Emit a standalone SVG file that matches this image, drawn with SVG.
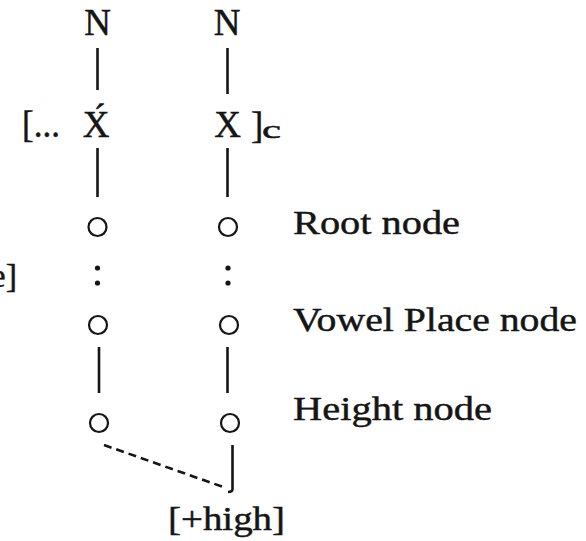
<svg xmlns="http://www.w3.org/2000/svg" width="586" height="541" viewBox="0 0 586 541" font-family="Liberation Serif, serif">
<style>
  text { font-family: 'Liberation Serif', serif; fill: #151515; stroke: #151515; stroke-width: 0.45; }
  .big { font-size: 37px; }
  .lbl { font-size: 34px; }
  .ln { stroke: #151515; stroke-width: 2.6; fill: none; stroke-linecap: butt; }
  .nd { stroke: #151515; stroke-width: 2.2; fill: #fff; }
  .dot { fill: #151515; }
  .dash { stroke: #151515; stroke-width: 2.6; fill: none; stroke-dasharray: 8 5; }
</style>
<rect width="586" height="541" fill="#fff"/>

<g id="connectors">
  <line class="ln" x1="97.5" y1="48" x2="97.5" y2="90"/>
  <line class="ln" x1="227.5" y1="48" x2="227.5" y2="94"/>
  <line class="ln" x1="97.5" y1="148" x2="97.5" y2="197"/>
  <line class="ln" x1="227.5" y1="148" x2="227.5" y2="197"/>
  <circle class="dot" cx="97.5" cy="268" r="2.6"/>
  <circle class="dot" cx="97.5" cy="283" r="2.6"/>
  <circle class="dot" cx="228" cy="268" r="2.6"/>
  <circle class="dot" cx="228" cy="283" r="2.6"/>
  <line class="ln" x1="99" y1="347" x2="99" y2="393"/>
  <line class="ln" x1="227.5" y1="347" x2="227.5" y2="393"/>
  <line class="dash" x1="104" y1="445" x2="226" y2="488"/>
  <path class="ln" d="M232.5 445 L232.5 489 Q232.5 492 228 492"/>
</g>

<g id="N-left"><text class="big" x="97.5" y="35" text-anchor="middle">N</text></g>
<g id="N-right"><text class="big" x="227" y="35" text-anchor="middle">N</text></g>

<g id="X-left">
  <text class="big" x="22" y="137" textLength="38" lengthAdjust="spacingAndGlyphs">[...</text>
  <text class="big" x="96" y="137" text-anchor="middle" font-size="40">X&#769;</text>
</g>
<g id="X-right">
  <text class="big" x="227.5" y="137" text-anchor="middle" font-size="40">X</text>
  <text class="big" x="251" y="138">]</text>
  <text x="262" y="138" font-size="26" textLength="19" lengthAdjust="spacingAndGlyphs">c</text>
</g>

<g id="left-edge"><text class="lbl" x="17" y="287" text-anchor="end">e]</text></g>

<g id="root-left"><circle class="nd" cx="97.5" cy="227" r="9"/></g>
<g id="root-right"><circle class="nd" cx="228" cy="227" r="9"/></g>
<g id="vplace-left"><circle class="nd" cx="98" cy="325" r="9"/></g>
<g id="vplace-right"><circle class="nd" cx="229" cy="325" r="9"/></g>
<g id="height-left"><circle class="nd" cx="99" cy="423" r="9"/></g>
<g id="height-right"><circle class="nd" cx="230" cy="423" r="9"/></g>

<g id="high"><text class="lbl" x="168" y="530" textLength="117" lengthAdjust="spacingAndGlyphs">[+high]</text></g>

<g id="label-root"><text class="lbl" x="293" y="234" textLength="167" lengthAdjust="spacingAndGlyphs">Root node</text></g>
<g id="label-vplace"><text class="lbl" x="293" y="331" textLength="284" lengthAdjust="spacingAndGlyphs">Vowel Place node</text></g>
<g id="label-height"><text class="lbl" x="293" y="420" textLength="199" lengthAdjust="spacingAndGlyphs">Height node</text></g>
</svg>
